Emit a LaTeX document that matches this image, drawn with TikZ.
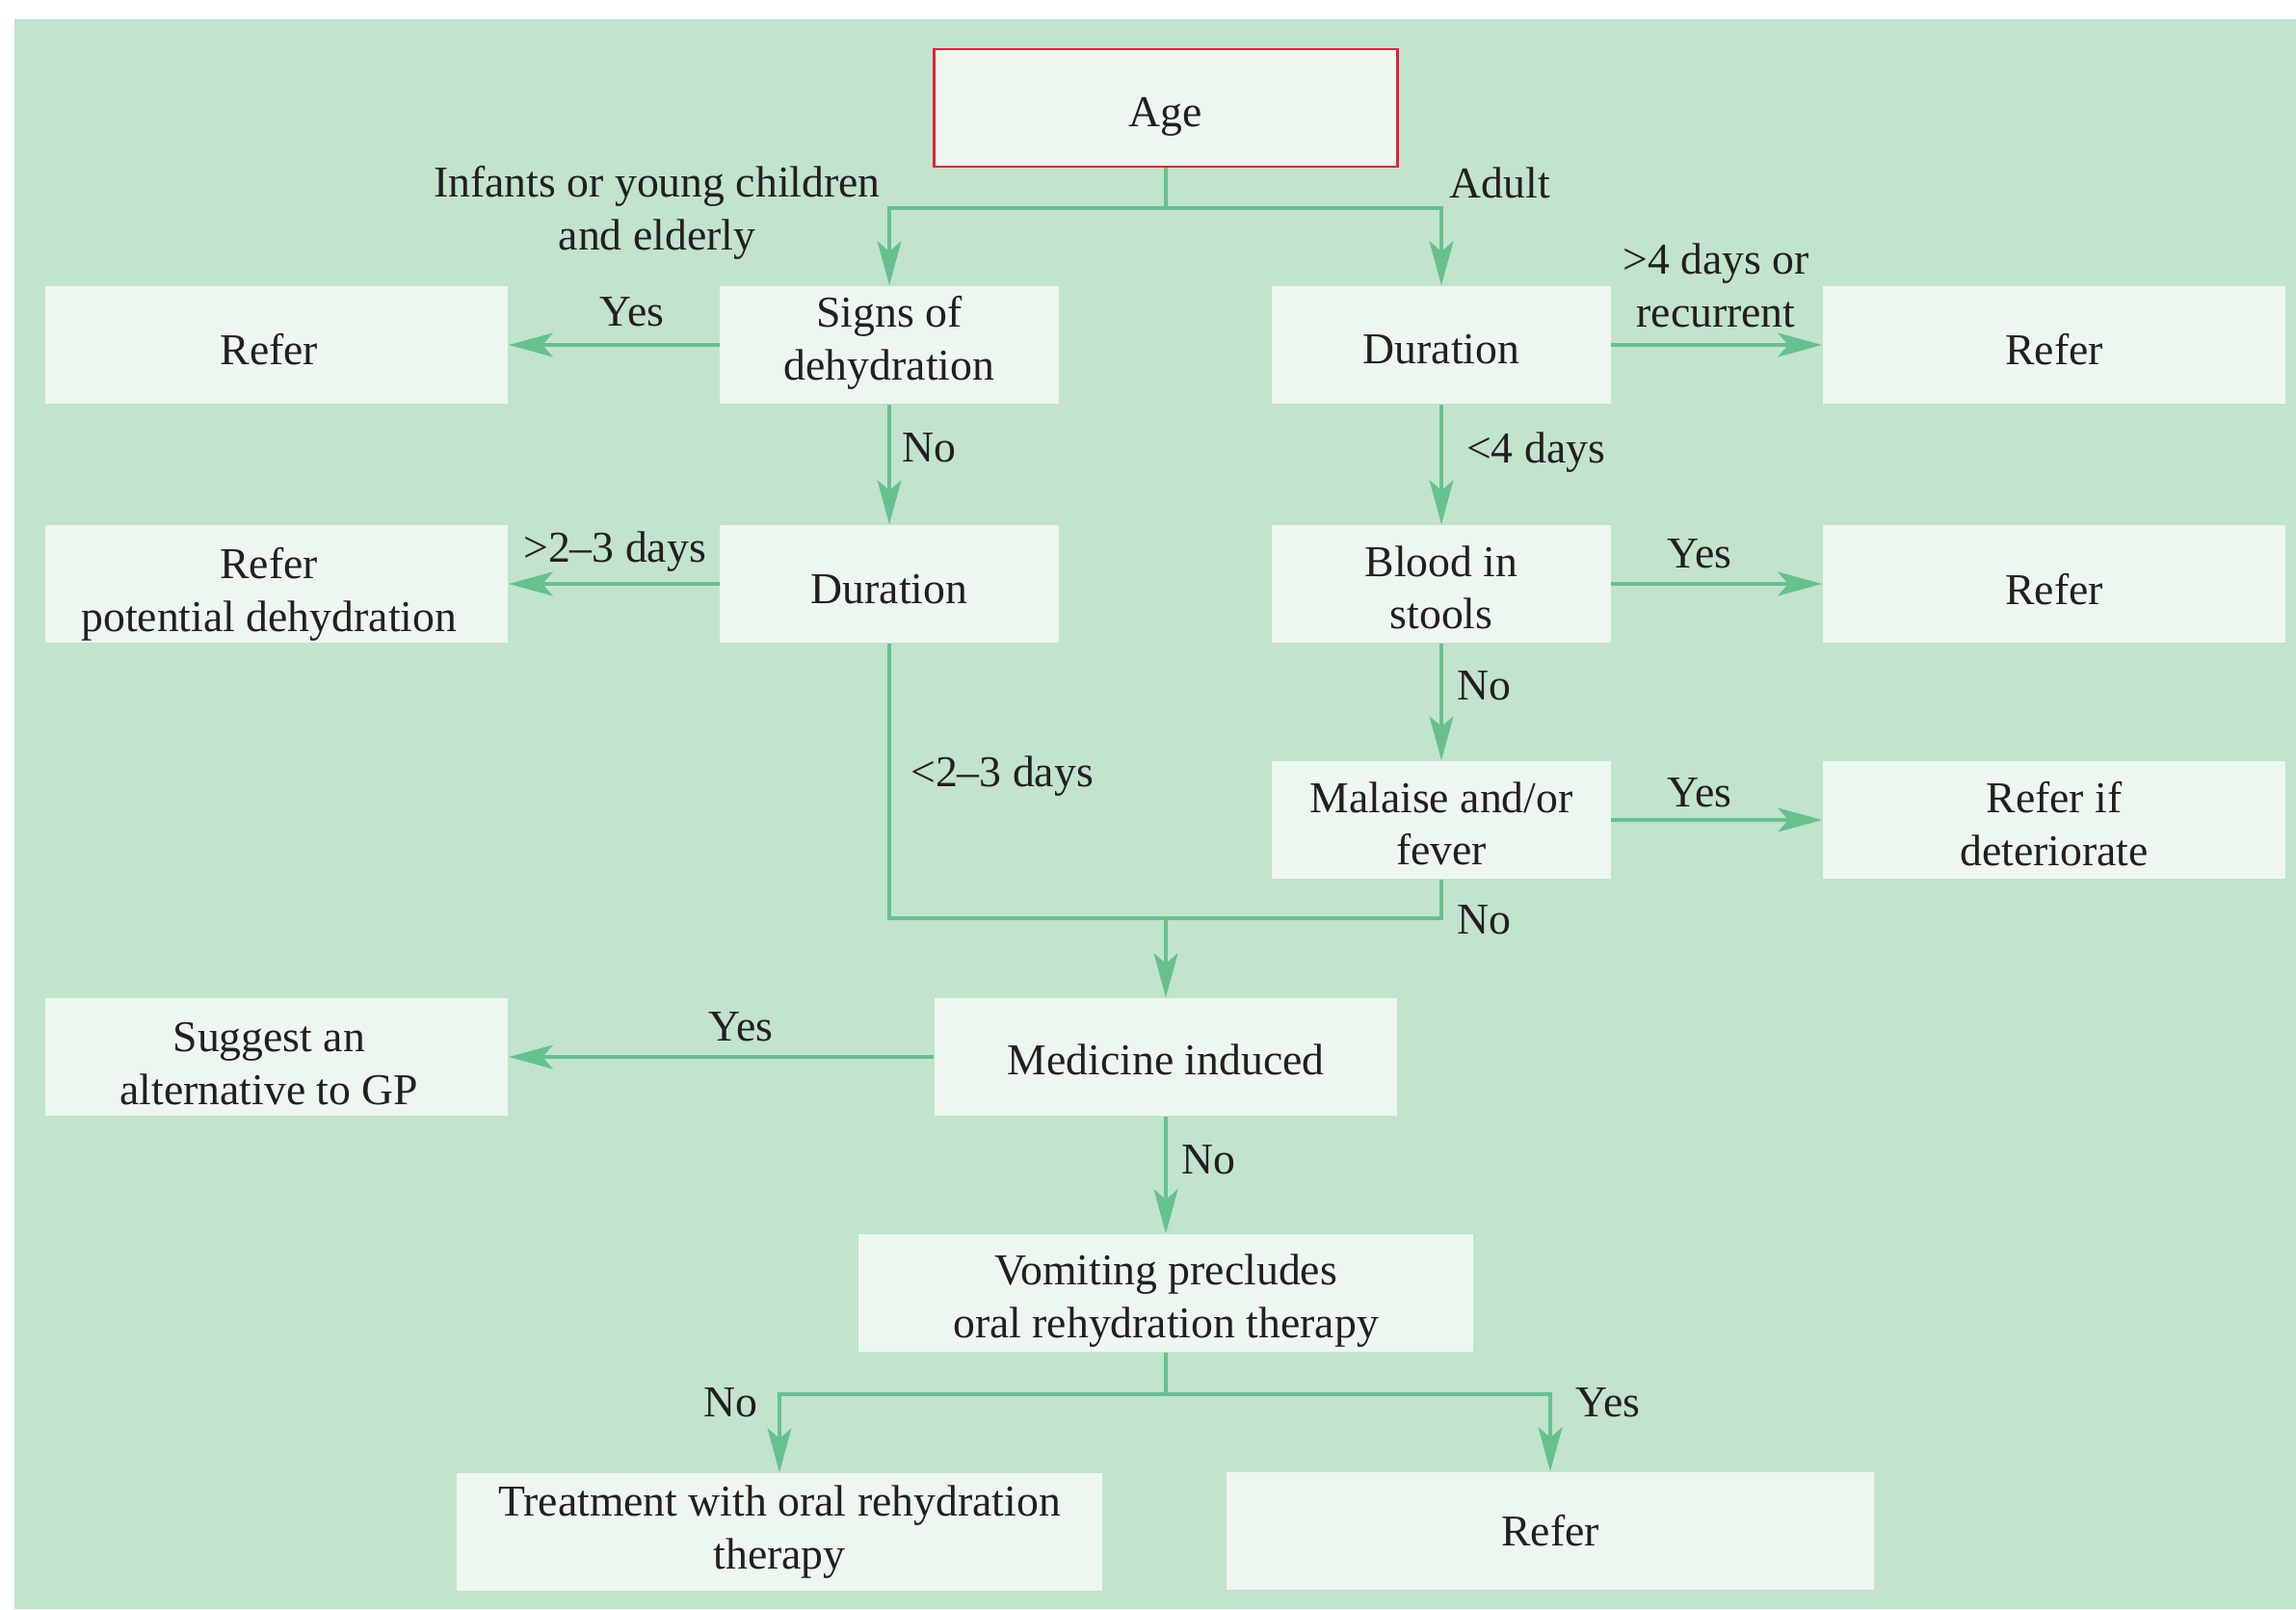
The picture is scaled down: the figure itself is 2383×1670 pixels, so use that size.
\documentclass[tikz,border=0pt]{standalone}
\usepackage{fontspec}
\setmainfont{Liberation Serif}
\usetikzlibrary{arrows.meta}
\definecolor{bgmint}{HTML}{C2E3CC}
\definecolor{boxfill}{HTML}{EDF7EF}
\definecolor{flow}{HTML}{66C18E}
\definecolor{agered}{HTML}{E5203B}
\definecolor{ink}{HTML}{231F20}

\begin{document}
\begin{tikzpicture}[x=0.01cm,y=-0.01cm,
  font=\fontsize{13pt}{15.6pt}\selectfont, text=ink,
  box/.style={fill=boxfill, draw=none, inner sep=0pt, minimum height=1.22cm},
  wide/.style={box, minimum width=4.8cm},
  mid/.style={box, minimum width=3.51cm},
  % box caption, nudged (dx, dy) from the box centre
  say/.style n args={3}{label={[align=center, inner sep=0pt, text=ink, xshift=#1, yshift=#2]center:{#3}}},
  lbl/.style={align=center, inner sep=0pt},
  flowline/.style={draw=flow, line width=1.4pt},
  arr/.style={flowline, -{Stealth[length=13pt,width=7pt,inset=3pt]}},
]
% page and panel
\fill[white] (0,0) rectangle (2383,1670);
\fill[bgmint] (15,20) rectangle (2383,1670);
\useasboundingbox (0,0) rectangle (2383,1670);

% boxes
\node[wide, draw=agered, line width=0.8pt, say={0pt}{-2.8pt}{Age}] (age) at (1210,112) {};
\node[wide, say={-2.2pt}{-1.4pt}{Refer}] (referA) at (287,358) {};
\node[mid, say={0pt}{0.5pt}{Signs of\\dehydration}] (signs) at (923,358) {};
\node[mid, say={0pt}{-1.4pt}{Duration}] (durR) at (1496,358) {};
\node[wide, say={0pt}{-1.4pt}{Refer}] (referB) at (2132,358) {};
\node[wide, say={-2.2pt}{-3.1pt}{Refer\\potential dehydration}] (referPot) at (287,606) {};
\node[mid, say={0pt}{-1.7pt}{Duration}] (durL) at (923,606) {};
\node[mid, say={0pt}{-1.1pt}{Blood in\\stools}] (blood) at (1496,606) {};
\node[wide, say={0pt}{-1.7pt}{Refer}] (referC) at (2132,606) {};
\node[mid, say={0pt}{-1.1pt}{Malaise and/or\\fever}] (malaise) at (1496,851) {};
\node[wide, say={0pt}{-1.1pt}{Refer if\\deteriorate}] (referD) at (2132,851) {};
\node[wide, say={-2.2pt}{-2.0pt}{Suggest an\\alternative to GP}] (suggest) at (287,1097) {};
\node[wide, say={0pt}{-0.9pt}{Medicine induced}] (medicine) at (1210,1097) {};
\node[box, minimum width=6.38cm, say={0pt}{-2.3pt}{Vomiting precludes\\oral rehydration therapy}] (vomit) at (1210,1342) {};
\node[box, minimum width=6.70cm, say={0pt}{0pt}{Treatment with oral rehydration\\therapy}] (treat) at (809,1590) {};
\node[box, minimum width=6.71cm, say={0pt}{0pt}{Refer}] (referE) at (1609,1589) {};

% junction points
\coordinate (split1) at (1210,216);
\coordinate (merge) at (1210,953);
\coordinate (split2) at (1210,1447);

% connectors
\draw[arr] (age.south) -- (split1) -| (signs.north);
\draw[arr] (age.south) -- (split1) -| (durR.north);
\draw[arr] (signs.west) -- (referA.east);
\draw[arr] (signs.south) -- (durL.north);
\draw[arr] (durL.west) -- (referPot.east);
\draw[arr] (durR.east) -- (referB.west);
\draw[arr] (durR.south) -- (blood.north);
\draw[arr] (blood.east) -- (referC.west);
\draw[arr] (blood.south) -- (malaise.north);
\draw[arr] (malaise.east) -- (referD.west);
\draw[flowline] (durL.south) |- (malaise.south |- merge) -- (malaise.south);
\draw[arr] (merge) -- (medicine.north);
\draw[arr] (medicine.west) -- (suggest.east);
\draw[arr] (medicine.south) -- (vomit.north);
\draw[arr] (vomit.south) -- (split2) -| (treat.north);
\draw[arr] (vomit.south) -- (split2) -| (referE.north);

% branch labels
\node[lbl] (lInfants) at (682,221) {Infants or young children\\and elderly};
\node[lbl, anchor=west] (lAdult) at (1504,190) {Adult};
\node[lbl] (lYesA) at (656,324) {Yes};
\node[lbl, anchor=west] (lNoA) at (936,465) {No};
\node[lbl] (lLong) at (638,573) {>2–3 days};
\node[lbl] (lLongR) at (1781,296) {>4 days or\\recurrent};
\node[lbl] (lShortR) at (1594,470) {<4 days};
\node[lbl] (lYesB) at (1764,575) {Yes};
\node[lbl] (lNoB) at (1540,712) {No};
\node[lbl] (lYesC) at (1764,823) {Yes};
\node[lbl] (lShort) at (1040,806) {<2–3 days};
\node[lbl] (lNoC) at (1540,955) {No};
\node[lbl] (lYesD) at (769,1066) {Yes};
\node[lbl] (lNoD) at (1254,1204) {No};
\node[lbl] (lNoE) at (758,1456) {No};
\node[lbl] (lYesE) at (1669,1456) {Yes};
\end{tikzpicture}
\end{document}
